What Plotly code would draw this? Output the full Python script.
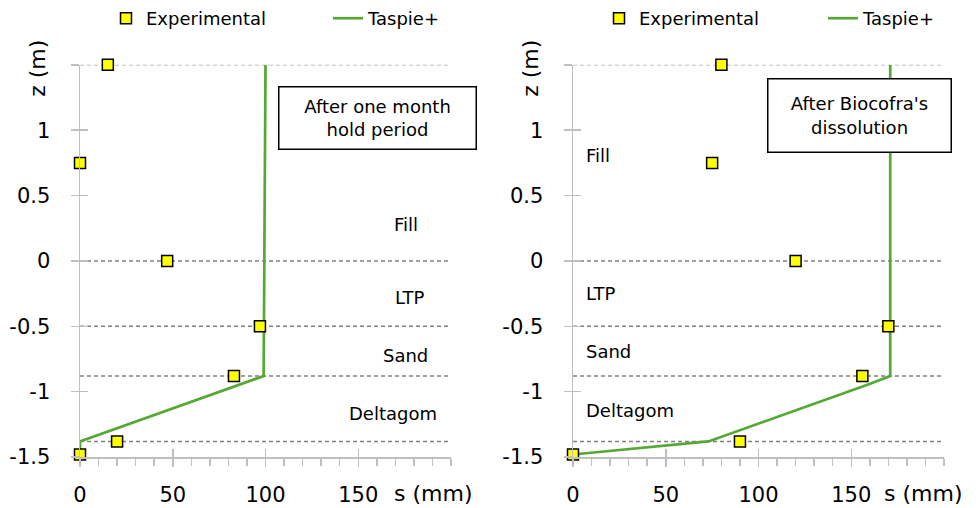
import plotly.graph_objects as go

# ---------------- data ----------------
boundaries_z = [1.5, 0.0, -0.5, -0.88, -1.38]

exp1_s = [15, 0, 47, 97, 83, 20, 0]
exp1_z = [1.5, 0.75, 0.0, -0.5, -0.88, -1.38, -1.48]
tas1_s = [100, 99, 99, 0, 0]
tas1_z = [1.5, -0.5, -0.88, -1.38, -1.48]

exp2_s = [80, 75, 120, 170, 156, 90, 0]
exp2_z = [1.5, 0.75, 0.0, -0.5, -0.88, -1.38, -1.48]
tas2_s = [171, 171, 171, 158, 73, 0]
tas2_z = [1.5, -0.5, -0.88, -0.95, -1.38, -1.48]

layers = ["Fill", "LTP", "Sand", "Deltagom"]
lab1_s = [176, 178, 175.5, 168.5]
lab1_z = [0.28, -0.28, -0.72, -1.17]
lab2_s = [6, 6, 6, 6]
lab2_z = [0.81, -0.245, -0.695, -1.14]

box_texts = ["After one month<br>hold period", "After Biocofra's<br>dissolution"]

x_tickvals = [0, 50, 100, 150, 200]
x_ticktext = ["0", "50", "100", "150", ""]
y_tickvals = [-1.5, -1, -0.5, 0, 0.5, 1, 1.5]
y_ticktext = ["-1.5", "-1", "-0.5", "0", "0.5", "1", ""]

# ---------------- style ----------------
W, H = 978, 508
FONT = "DejaVu Sans"
GREEN = "#55A833"
AXC = "#BFBFBF"
DASHC = "#808080"

def px_x(p):
    return p / W

def px_y(p):
    return 1 - p / H

doms_x = [[px_x(80), px_x(451)], [px_x(573), px_x(944)]]
dom_y = [px_y(457), px_y(64)]

fig = go.Figure()

panels = [
    (exp1_s, exp1_z, tas1_s, tas1_z, lab1_s, lab1_z, "center", "legend", "legend2"),
    (exp2_s, exp2_z, tas2_s, tas2_z, lab2_s, lab2_z, "left", "legend3", "legend4"),
]

MARKER = dict(symbol="square", size=11, color="#FFFF00",
              line=dict(color="black", width=1.5))

for i, (es, ez, ts, tz, ls, lz, lalign, lgA, lgB) in enumerate(panels):
    xa = "x" if i == 0 else "x2"
    ya = "y" if i == 0 else "y2"
    # boundary dashed lines
    for j, zb in enumerate(boundaries_z):
        fig.add_trace(go.Scatter(
            x=[0, 200], y=[zb, zb], mode="lines", xaxis=xa, yaxis=ya,
            line=dict(color="#A6A6A6" if j == 0 else DASHC,
                      width=1.1 if j == 0 else 1.5, dash="4px,3px"),
            showlegend=False, hoverinfo="skip", cliponaxis=False))
    fig.add_trace(go.Scatter(
        x=ts, y=tz, mode="lines", name="Taspie+", xaxis=xa, yaxis=ya,
        line=dict(color=GREEN, width=2.7), legend=lgB, cliponaxis=False))
    fig.add_trace(go.Scatter(
        x=es, y=ez, mode="markers", name="Experimental", xaxis=xa, yaxis=ya,
        marker=MARKER, legend=lgA, cliponaxis=False))
    for name, s, z in zip(layers, ls, lz):
        fig.add_annotation(x=s, y=z, xref=xa, yref=ya, text=name,
                           showarrow=False, xanchor=lalign, yanchor="middle",
                           font=dict(family=FONT, size=18, color="black"))

# invisible traces for the inside-tick overlay axes
fig.add_trace(go.Scatter(x=[0], y=[0], xaxis="x3", yaxis="y3", mode="markers",
                         opacity=0, showlegend=False, hoverinfo="skip"))
fig.add_trace(go.Scatter(x=[0], y=[0], xaxis="x4", yaxis="y4", mode="markers",
                         opacity=0, showlegend=False, hoverinfo="skip"))

xcommon = dict(range=[0, 200], tickmode="array", tickvals=x_tickvals,
               ticktext=x_ticktext, ticks="outside", ticklen=8, tickwidth=1.5,
               tickcolor=AXC, showline=True, linecolor=AXC, linewidth=1.5,
               showgrid=False, zeroline=False, fixedrange=True,
               ticklabelstandoff=10, automargin=False,
               tickfont=dict(family=FONT, size=21, color="black"),
               minor=dict(tickvals=list(range(0, 201, 10)), ticks="outside",
                          ticklen=7, tickwidth=1.5, tickcolor=AXC,
                          showgrid=False))
ycommon = dict(range=[-1.5, 1.5], tickmode="array", tickvals=y_tickvals,
               ticktext=y_ticktext, ticks="outside", ticklen=8, tickwidth=1.5,
               tickcolor=AXC, showline=True, linecolor=AXC, linewidth=1.5,
               showgrid=False, zeroline=False, fixedrange=True,
               ticklabelstandoff=16, automargin=False,
               tickfont=dict(family=FONT, size=21, color="black"))
xin = dict(range=[0, 200], tickmode="array", tickvals=x_tickvals,
           ticks="inside", ticklen=8, tickwidth=1.5, tickcolor=AXC,
           showticklabels=False, showline=False, showgrid=False,
           zeroline=False, fixedrange=True, automargin=False)
yin = dict(range=[-1.5, 1.5], tickmode="array", tickvals=y_tickvals,
           ticks="inside", ticklen=8, tickwidth=1.5, tickcolor=AXC,
           showticklabels=False, showline=False, showgrid=False,
           zeroline=False, fixedrange=True, automargin=False)

def leg(xpx):
    return dict(orientation="h", x=px_x(xpx), y=px_y(18), xanchor="left",
                yanchor="middle",
                font=dict(family=FONT, size=18, color="black"),
                bgcolor="rgba(0,0,0,0)")

fig.update_layout(
    width=W, height=H, margin=dict(l=0, r=0, t=0, b=0),
    paper_bgcolor="white", plot_bgcolor="rgba(0,0,0,0)",
    font=dict(family=FONT, color="black"),
    xaxis=dict(domain=doms_x[0], anchor="y", **xcommon),
    yaxis=dict(domain=dom_y, anchor="x", **ycommon),
    xaxis2=dict(domain=doms_x[1], anchor="y2", **xcommon),
    yaxis2=dict(domain=dom_y, anchor="x2", **ycommon),
    xaxis3=dict(anchor="y", overlaying="x", **xin),
    yaxis3=dict(anchor="x", overlaying="y", **yin),
    xaxis4=dict(anchor="y2", overlaying="x2", **xin),
    yaxis4=dict(anchor="x2", overlaying="y2", **yin),
    legend=leg(106),
    legend2=leg(328),
    legend3=leg(599),
    legend4=leg(823),
    showlegend=True,
)

# boxed panel notes
fig.add_annotation(x=px_x(377.5), y=px_y(117), xref="paper", yref="paper",
                   xanchor="center", yanchor="middle",
                   text=box_texts[0], showarrow=False, width=196, height=61,
                   bordercolor="black", borderwidth=1.5, borderpad=0,
                   bgcolor="white", align="center",
                   font=dict(family=FONT, size=18, color="black"))
fig.add_annotation(x=px_x(859.5), y=px_y(114.5), xref="paper", yref="paper",
                   xanchor="center", yanchor="middle",
                   text=box_texts[1], showarrow=False, width=182, height=72,
                   bordercolor="black", borderwidth=1.5, borderpad=0,
                   bgcolor="white", align="center",
                   font=dict(family=FONT, size=18, color="black"))

# axis titles
for cx in (38, 531):
    fig.add_annotation(x=px_x(cx), y=px_y(68), xref="paper", yref="paper",
                       xanchor="center", yanchor="middle",
                       text="z (m)", showarrow=False, textangle=-90,
                       font=dict(family=FONT, size=22, color="black"))
for cx in (433, 923):
    fig.add_annotation(x=px_x(cx), y=px_y(493), xref="paper", yref="paper",
                       xanchor="center", yanchor="middle",
                       text="s (mm)", showarrow=False,
                       font=dict(family=FONT, size=22, color="black"))

fig.write_html(
    "out.html",
    config={"displayModeBar": False, "staticPlot": True},
    post_script="document.body.style.margin='0';"
                "document.body.style.overflow='hidden';",
)
